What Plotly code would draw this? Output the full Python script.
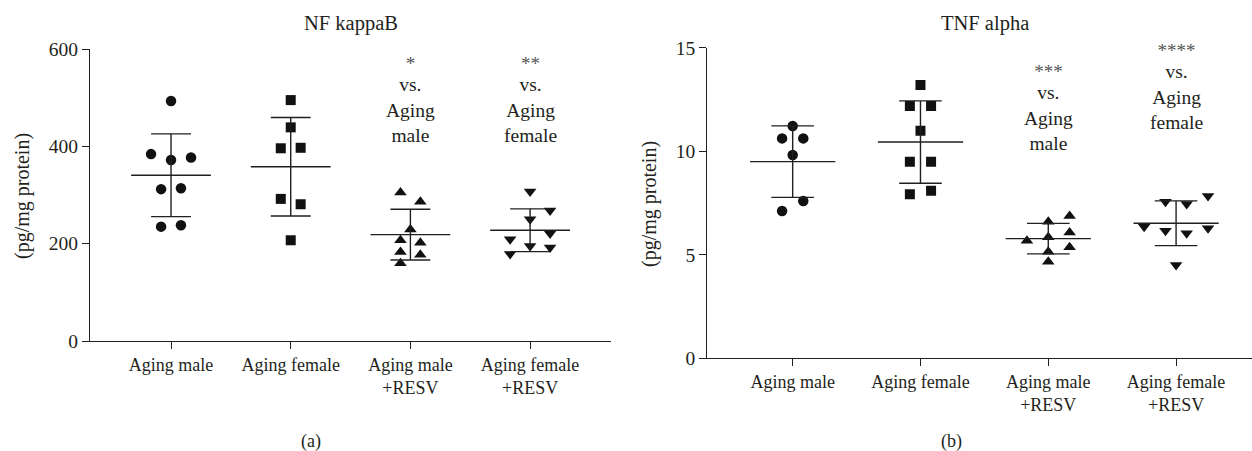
import numpy as np
import plotly.graph_objects as go

# ---------------- data ----------------
categories = ["Aging male", "Aging female", "Aging male<br>+RESV", "Aging female<br>+RESV"]

nf_male = [493, 384, 372, 377, 312, 314, 235, 238]
nf_female = [495, 439, 396, 397, 292, 281, 207]
nf_male_resv = [305, 286, 229, 207, 202, 183, 177, 160]
nf_female_resv = [307, 268, 250, 221, 209, 195, 192, 179]

tnf_male = [11.22, 10.62, 10.62, 9.82, 7.60, 7.11]
tnf_female = [13.20, 12.18, 12.18, 10.99, 9.49, 9.49, 7.92, 8.09]
tnf_male_resv = [6.87, 6.60, 6.07, 5.68, 5.84, 5.36, 5.15, 4.66]
tnf_female_resv = [7.84, 7.56, 7.45, 6.35, 6.16, 6.04, 6.28, 4.51]

# horizontal scatter (jitter) of points within each column, in category units
nf_jitter = [
    [0, -0.167, 0, 0.167, -0.083, 0.083, -0.083, 0.083],
    [0, 0, -0.083, 0.083, -0.083, 0.083, 0],
    [-0.083, 0.083, 0, -0.083, 0.083, -0.083, 0.083, -0.083],
    [0, 0.167, 0, 0.167, -0.167, 0, 0.167, -0.167],
]
tnf_jitter = [
    [0, -0.083, 0.083, 0, 0.083, -0.083],
    [0, -0.083, 0.083, 0, -0.083, 0.083, -0.083, 0.083],
    [0.167, 0, 0.167, -0.167, 0, 0.167, 0, 0],
    [0.25, -0.083, 0.083, -0.25, -0.083, 0.083, 0.25, 0],
]

nf_notes = ["*", "**"]
tnf_notes = ["***", "****"]
note_refs = ["Aging<br>male", "Aging<br>female"]

nf_groups = [nf_male, nf_female, nf_male_resv, nf_female_resv]
tnf_groups = [tnf_male, tnf_female, tnf_male_resv, tnf_female_resv]
symbols = ["circle", "square", "triangle-up", "triangle-down"]
sizes = [10.5, 10, 11, 11]

INK = "#231f20"
FONT = "Liberation Serif"

fig = go.Figure()


def add_panel(groups, jitter, xa, ya):
    for i, (vals, jit) in enumerate(zip(groups, jitter)):
        fig.add_trace(go.Scatter(
            x=[i + j for j in jit], y=vals, mode="markers",
            marker=dict(symbol=symbols[i], size=sizes[i], color="#111111", line=dict(width=0)),
            xaxis=xa, yaxis=ya, showlegend=False, hoverinfo="y"))
        m = float(np.mean(vals))
        sd = float(np.std(vals, ddof=1))
        lx = [i - 1/3, i + 1/3, None, i, i, None, i - 1/6, i + 1/6, None, i - 1/6, i + 1/6]
        ly = [m, m, None, m - sd, m + sd, None, m + sd, m + sd, None, m - sd, m - sd]
        fig.add_trace(go.Scatter(
            x=lx, y=ly, mode="lines", line=dict(color=INK, width=1.4),
            xaxis=xa, yaxis=ya, showlegend=False, hoverinfo="skip"))


add_panel(nf_groups, nf_jitter, "x", "y")
add_panel(tnf_groups, tnf_jitter, "x2", "y2")

W, H = 1252, 451

axis_common = dict(
    showline=True, linecolor=INK, linewidth=1.3, ticks="outside", ticklen=7,
    tickcolor=INK, tickwidth=1.3, showgrid=False, zeroline=False, automargin=False,
)

fig.update_layout(
    width=W, height=H,
    margin=dict(l=0, r=0, t=0, b=0, pad=0, autoexpand=False),
    paper_bgcolor="white", plot_bgcolor="white",
    font=dict(family=FONT, color=INK),
    showlegend=False,
    xaxis=dict(domain=[90 / W, 611 / W], range=[-0.677, 3.676],
               tickvals=[0, 1, 2, 3], ticktext=categories,
               tickfont=dict(size=18, family=FONT, color=INK), anchor="y", **axis_common),
    yaxis=dict(domain=[(H - 341) / H, (H - 49) / H], range=[0, 600],
               tickvals=[0, 200, 400, 600],
               tickfont=dict(size=19.5, family=FONT, color=INK), anchor="x", **axis_common),
    xaxis2=dict(domain=[707.3 / W, 1.0], range=[-0.668, 3.594],
                tickvals=[0, 1, 2, 3], ticktext=categories,
                tickfont=dict(size=18, family=FONT, color=INK), anchor="y2", **axis_common),
    yaxis2=dict(domain=[(H - 358.3) / H, (H - 47.7) / H], range=[0, 15],
                tickvals=[0, 5, 10, 15],
                tickfont=dict(size=19.5, family=FONT, color=INK), anchor="x2", **axis_common),
)


def ann(text, x, ypx, size=20, xref="paper", angle=0):
    fig.add_annotation(text=text, x=x, y=(H - ypx) / H, xref=xref, yref="paper",
                       showarrow=False, textangle=angle, xanchor="center", yanchor="middle",
                       borderpad=0, font=dict(family=FONT, size=size, color=INK))


# panel titles
ann("NF kappaB", 351 / W, 23, size=20.5)
ann("TNF alpha", 984.5 / W, 23, size=20.5)
# y-axis titles
ann("(pg/mg protein)", 22 / W, 196, size=20, angle=-90)
ann("(pg/mg protein)", 650 / W, 204, size=20, angle=-90)
# panel letters
ann("(a)", 311 / W, 441, size=18)
ann("(b)", 951 / W, 441, size=18)

# significance notes (stars / vs. / reference group)
note_specs = [("x", 2, nf_notes[0], note_refs[0], 100),
              ("x", 3, nf_notes[1], note_refs[1], 100),
              ("x2", 2, tnf_notes[0], note_refs[0], 107),
              ("x2", 3, tnf_notes[1], note_refs[1], 87)]
for xref, xc, stars, ref, ymid in note_specs:
    txt = (f"<span style='font-size:19px;fill:#555555;baseline-shift:-4px'>{stars}</span>"
           f"<br>vs.<br>{ref}")
    ann(txt, xc, ymid, size=19.5, xref=xref)

fig.write_html("out.html", config={"displayModeBar": False},
               post_script="document.body.style.margin='0px';")
